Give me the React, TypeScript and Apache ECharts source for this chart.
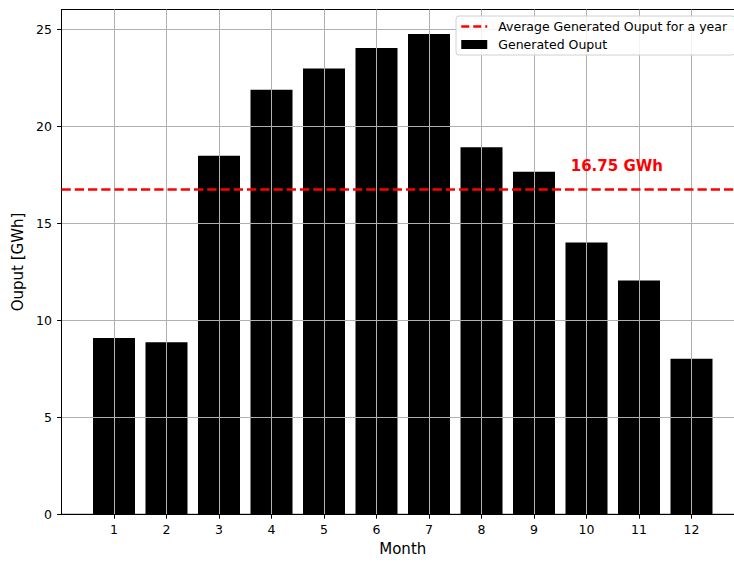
import React, { useEffect, useRef } from "react";
import * as echarts from "echarts";

const MONTHS = [1, 2, 3, 4, 5, 6, 7, 8, 9, 10, 11, 12];
const OUTPUT = [9.09, 8.88, 18.5, 21.9, 23.0, 24.05, 24.78, 18.93, 17.67, 14.02, 12.06, 8.02];
const AVERAGE = 16.75;
const Y_TICKS = [0, 5, 10, 15, 20, 25];
const AVG_NAME = "Average Generated Ouput for a year";
const BAR_NAME = "Generated Ouput";
const AVG_LABEL = "16.75 GWh";
const LABEL_POS: [number, number] = [9.69, 17.98];

const FONT = "DejaVu Sans";

export default function App() {
  const ref = useRef<HTMLDivElement>(null);
  useEffect(() => {
    if (!ref.current) return;
    const chart = echarts.init(ref.current, null, { renderer: "svg" });
    chart.setOption({
      animation: false,
      textStyle: { fontFamily: FONT },
      grid: {
        left: 61.5,
        top: 9.5,
        width: 682.5,
        height: 504.8,
        show: true,
        borderColor: "#000",
        borderWidth: 1,
        backgroundColor: "transparent",
      },
      legend: {
        left: 456,
        top: 16,
        orient: "vertical",
        padding: [4, 8, 4, 4],
        itemGap: 5,
        itemWidth: 26,
        itemHeight: 9,
        borderColor: "#d0d0d0",
        borderWidth: 1,
        borderRadius: 3,
        backgroundColor: "rgba(255,255,255,0.85)",
        textStyle: { fontFamily: FONT, fontSize: 12.5, color: "#000", padding: [0, 0, 0, 6] },
        data: [
          {
            name: AVG_NAME,
            itemStyle: { opacity: 0 },
            lineStyle: { color: "#ff0000", width: 2.5, type: [8, 4] },
          },
          { name: BAR_NAME, icon: "rect" },
        ],
        z: 10,
      },
      xAxis: {
        type: "value",
        min: 0,
        max: 13,
        interval: 1,
        z: 3,
        name: "Month",
        nameLocation: "middle",
        nameGap: 26,
        nameTextStyle: { fontFamily: FONT, fontSize: 15, color: "#000" },
        axisLine: { show: true, onZero: false, lineStyle: { color: "#000", width: 1 } },
        axisTick: { show: true, length: 4.4, lineStyle: { color: "#000" }, customValues: MONTHS },
        axisLabel: {
          fontFamily: FONT,
          fontSize: 12.5,
          color: "#000",
          margin: 8.8,
          customValues: MONTHS,
          formatter: (v: number) => (MONTHS.indexOf(v) >= 0 ? String(v) : ""),
        },
        splitLine: { show: true, lineStyle: { color: "#b0b0b0", width: 1 } },
      },
      yAxis: {
        type: "value",
        min: 0,
        max: 26.04,
        interval: 5,
        z: 3,
        name: "Ouput [GWh]",
        nameLocation: "middle",
        nameGap: 29,
        nameTextStyle: { fontFamily: FONT, fontSize: 15, color: "#000" },
        axisLine: { show: true, lineStyle: { color: "#000", width: 1 } },
        axisTick: { show: true, length: 4.4, lineStyle: { color: "#000" }, customValues: Y_TICKS },
        axisLabel: {
          fontFamily: FONT,
          fontSize: 12.5,
          color: "#000",
          margin: 9.5,
          customValues: Y_TICKS,
          formatter: (v: number) => (Y_TICKS.indexOf(v) >= 0 ? String(v) : ""),
        },
        splitLine: { show: true, lineStyle: { color: "#b0b0b0", width: 1 } },
      },
      series: [
        {
          name: BAR_NAME,
          type: "bar",
          data: MONTHS.map((m, i) => [m, OUTPUT[i]]),
          barWidth: 42,
          itemStyle: { color: "#000" },
          z: 1,
        },
        {
          name: AVG_NAME,
          type: "line",
          data: [
            [0, AVERAGE],
            [13, AVERAGE],
          ],
          symbol: "none",
          lineStyle: { color: "#ff0000", width: 2.5, type: [9.25, 4] },
          itemStyle: { color: "#ff0000" },
          z: 5,
          markPoint: {
            symbol: "circle",
            symbolSize: 1,
            itemStyle: { color: "transparent" },
            label: {
              show: true,
              position: "right",
              distance: 0,
              formatter: AVG_LABEL,
              fontFamily: FONT,
              fontSize: 15,
              fontWeight: "bold",
              color: "#ff0000",
            },
            data: [{ coord: LABEL_POS }],
          },
        },
      ],
    });
    return () => chart.dispose();
  }, []);
  return (
    <div style={{ position: "fixed", left: 0, top: 0, width: 734, height: 562, overflow: "hidden", background: "#fff" }}>
      <div ref={ref} style={{ width: 790, height: 562 }} />
    </div>
  );
}
